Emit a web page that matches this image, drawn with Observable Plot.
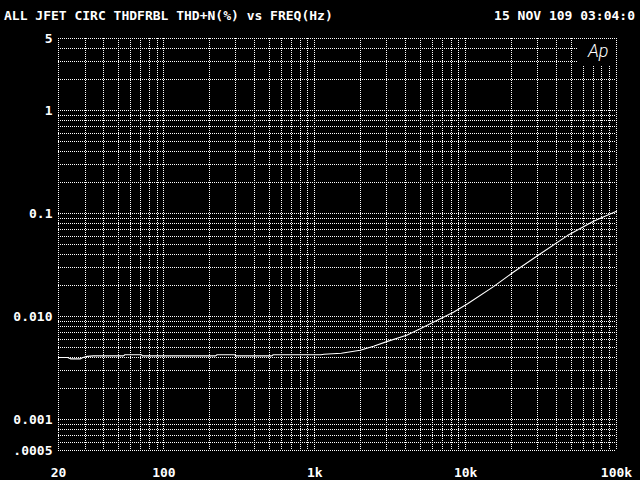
<!DOCTYPE html>
<html>
<head>
<meta charset="utf-8">
<script src="https://cdn.jsdelivr.net/npm/d3@7"></script>
<script src="https://cdn.jsdelivr.net/npm/@observablehq/plot@0.6"></script>
<style>
  html, body { margin: 0; padding: 0; background: #000; width: 640px; height: 480px; overflow: hidden; }
  #header { position: relative; width: 640px; height: 24px; color: #fff;
            font: bold 13px "DejaVu Sans Mono", monospace; }
  #header span { position: absolute; top: 8px; line-height: 15px; white-space: pre; }
  #chart svg { display: block; }
</style>
</head>
<body>
<div id="header"><span id="t1" style="left:4px"></span><span id="t2" style="right:5px"></span></div>
<div id="chart"></div>
<script>
const titleLeft = "ALL JFET CIRC THDFRBL THD+N(%) vs FREQ(Hz)";
const titleRight = "15 NOV 109 03:04:0";

// THD+N (%) vs frequency (Hz)
const freqHz = [20, 23, 24, 28, 29, 31, 34, 54, 55, 71, 72, 220, 225, 295, 300, 520, 530,
                1100, 1150, 1500, 2000, 2450, 3000, 4100, 5000, 6100, 8300, 10300,
                15300, 20800, 31300, 47300, 70400, 100000];
const thdPct = [0.0040, 0.0040, 0.00388, 0.00388, 0.0040, 0.0041, 0.00415, 0.00415, 0.00425, 0.00425, 0.00415, 0.00415, 0.00425, 0.00425, 0.00415, 0.00415, 0.00425,
                0.00425, 0.0043, 0.0044, 0.0047, 0.00515, 0.0057, 0.0066, 0.0076, 0.0088, 0.011, 0.0133,
                0.0195, 0.027, 0.0407, 0.061, 0.084, 0.105];

const xTickValues = [20, 100, 1000, 10000, 100000];
const xTickLabels = ["20", "100", "1k", "10k", "100k"];
const yTickValues = [5, 1, 0.1, 0.01, 0.001, 0.0005];
const yTickLabels = ["5", "1", "0.1", "0.010", "0.001", ".0005"];

const xDomain = [20, 100000];
const yDomain = [0.0005, 5];

document.getElementById("t1").textContent = titleLeft;
document.getElementById("t2").textContent = titleRight;

const data = freqHz.map((f, i) => ({f, v: thdPct[i]}));
const yLabels = yTickValues.map((v, i) => ({v, label: yTickLabels[i]}));

// grid positions: 1..9 per decade
const xGrid = [];
for (const d of [10, 100, 1000, 10000, 100000]) for (let m = 1; m <= 9; m++) {
  const v = +(m * d).toPrecision(6);
  if (v >= xDomain[0] && v <= xDomain[1]) xGrid.push(v);
}
const yGrid = [];
for (const d of [0.0001, 0.001, 0.01, 0.1, 1]) for (let m = 1; m <= 9; m++) {
  const v = +(m * d).toPrecision(6);
  if (v >= yDomain[0] && v <= yDomain[1]) yGrid.push(v);
}

const logoBox = [{x1: 56000, x2: 100000, y1: 2.7, y2: 5}];
const font = "'DejaVu Sans Mono', monospace";
const dot = {stroke: "#fff", strokeWidth: 1, strokeDasharray: "1,1", shapeRendering: "crispEdges"};

const chart = Plot.plot({
  width: 640,
  height: 456,
  marginTop: 14,
  marginBottom: 30,
  marginLeft: 58,
  marginRight: 24,
  style: {background: "#000", color: "#fff", fontFamily: font, fontSize: "13px", fontWeight: "bold"},
  x: {type: "log", domain: xDomain, axis: null},
  y: {type: "log", domain: yDomain, axis: null},
  marks: [
    Plot.ruleX(xGrid, dot),
    Plot.ruleY(yGrid, dot),
    Plot.rect(logoBox, {x1: "x1", x2: "x2", y1: "y1", y2: "y2", fill: "#000"}),
    Plot.ruleX(xDomain, dot),
    Plot.ruleY(yDomain, dot),
    Plot.text(["Ap"], {frameAnchor: "top-right", dx: -8, dy: 6, lineAnchor: "top", textAnchor: "end",
      fill: "#fff", fontSize: 18, fontStyle: "italic", fontWeight: 300, fontFamily: "Roboto, 'DejaVu Sans', sans-serif"}),
    Plot.line(data, {x: "f", y: "v", stroke: "#fff", strokeWidth: 1.1}),
    Plot.axisX({ticks: xTickValues, tickFormat: (d) => xTickLabels[xTickValues.indexOf(d)],
      tickSize: 0, tickPadding: 17, label: null, fill: "#fff"}),
    Plot.text(yLabels, {y: "v", text: "label", frameAnchor: "left", dx: -6, textAnchor: "end",
      fill: "#fff", fontSize: 13, fontWeight: "bold", fontFamily: font})
  ]
});
document.getElementById("chart").appendChild(chart);
</script>
</body>
</html>
